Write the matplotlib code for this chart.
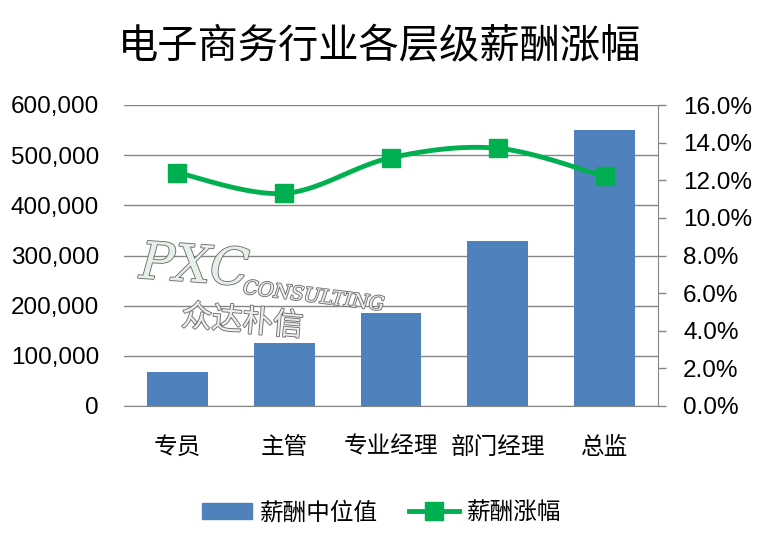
import matplotlib
matplotlib.use('Agg')
import matplotlib.pyplot as plt
import matplotlib.patheffects as pe
from matplotlib.lines import Line2D
from matplotlib.patches import Patch
from matplotlib.ticker import FuncFormatter, MultipleLocator
import numpy as np

plt.rcParams['font.family'] = ['Liberation Sans', 'Noto Sans CJK SC', 'DejaVu Sans']

# data
levels = ['专员', '主管', '专业经理', '部门经理', '总监']
salary_median = [68000, 126000, 185000, 329000, 550000]
salary_raise = [0.124, 0.113, 0.132, 0.137, 0.122]

title = '电子商务行业各层级薪酬涨幅'
bar_label = '薪酬中位值'
line_label = '薪酬涨幅'

bar_color = '#4F81BD'
line_color = '#00B050'
grid_color = '#868686'


def smooth(xs, ys, n=30):
    # excel-like smoothed line (catmull-rom through the points)
    xs = np.asarray(xs, float)
    ys = np.asarray(ys, float)
    px = np.concatenate([[xs[0]], xs, [xs[-1]]])
    py = np.concatenate([[ys[0]], ys, [ys[-1]]])
    outx, outy = [], []
    t = np.linspace(0, 1, n)
    for i in range(1, len(px) - 2):
        p0, p1, p2, p3 = (np.array([px[j], py[j]]) for j in range(i - 1, i + 3))
        c1 = p1 + (p2 - p0) / 6
        c2 = p2 - (p3 - p1) / 6
        b = (((1 - t) ** 3)[:, None] * p1 + (3 * (1 - t) ** 2 * t)[:, None] * c1
             + (3 * (1 - t) * t ** 2)[:, None] * c2 + (t ** 3)[:, None] * p2)
        outx.extend(b[:, 0])
        outy.extend(b[:, 1])
    return outx, outy


fig = plt.figure(figsize=(7.83, 5.57), dpi=100)
ax = fig.add_axes([124 / 783, 1 - 406 / 557, (658 - 124) / 783, (406 - 105) / 557])
x = np.arange(len(levels))

ax.bar(x, salary_median, width=0.57, color=bar_color, zorder=2)
ax.set_xlim(-0.5, len(levels) - 0.5)
ax.set_ylim(0, 600000)
ax.yaxis.set_major_locator(MultipleLocator(100000))
ax.yaxis.set_major_formatter(FuncFormatter(lambda v, p: f'{int(v):,}'))
ax.grid(axis='y', color=grid_color, linewidth=1)
ax.set_axisbelow(True)
ax.set_xticks(x)
ax.set_xticklabels(levels)
ax.tick_params(axis='y', length=0, pad=18, labelsize=17.5)
ax.tick_params(axis='x', length=0, pad=22, labelsize=17)
for s in ['left', 'top', 'right']:
    ax.spines[s].set_visible(False)
ax.spines['bottom'].set_color(grid_color)

ax2 = ax.twinx()
sx, sy = smooth(x, salary_raise)
ax2.plot(sx, sy, color=line_color, linewidth=3.5, zorder=3)
ax2.plot(x, salary_raise, linestyle='none', marker='s', markersize=13,
         color=line_color, zorder=4)
ax2.set_ylim(0, 0.16)
ax2.yaxis.set_major_locator(MultipleLocator(0.02))
ax2.yaxis.set_major_formatter(FuncFormatter(lambda v, p: f'{v * 100:.1f}%'))
ax2.tick_params(axis='y', length=6, width=1, color=grid_color, pad=12, labelsize=17.5)
for s in ['left', 'top', 'bottom']:
    ax2.spines[s].set_visible(False)
ax2.spines['right'].set_color(grid_color)

fig.text(380 / 783, 1 - 47 / 557, title, ha='center', va='center', fontsize=29)

# watermark logo
wm = [pe.withStroke(linewidth=1.3, foreground='#6f6f6f')]
fig.text(138 / 783, 1 - 268 / 557, 'PXC', family='DejaVu Serif', style='italic',
         fontsize=37, color='#e6f0e6', path_effects=wm, rotation=-4, va='center')
fig.text(242 / 783, 1 - 297 / 557, 'CONSULTING', family='DejaVu Serif', style='italic',
         fontsize=14, color='#eeeeee', path_effects=wm, rotation=-7, va='center')
fig.text(180 / 783, 1 - 322 / 557, '众达朴信', family=['Noto Sans CJK SC'],
         fontsize=22, color='#eeeeee', path_effects=wm, rotation=-5, va='center')

handles = [Patch(color=bar_color),
           Line2D([], [], color=line_color, linewidth=3.5, marker='s', markersize=13)]
fig.legend(handles, [bar_label, line_label], loc='center', ncol=2,
           bbox_to_anchor=(382 / 783, 1 - 513 / 557), frameon=False, fontsize=17,
           handlelength=2.1, handletextpad=0.35, columnspacing=1.3)

fig.savefig('out.png', dpi=100)
